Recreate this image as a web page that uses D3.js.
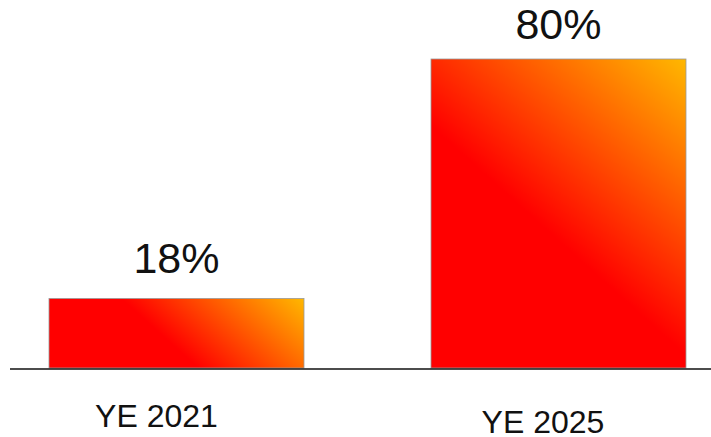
<!DOCTYPE html>
<html><head><meta charset="utf-8">
<script src="https://cdn.jsdelivr.net/npm/d3@7"></script>
<style>html,body{margin:0;padding:0;background:#fff;}svg{display:block;}</style>
</head><body>
<script>
const categories = ["YE 2021", "YE 2025"];
const values = [18, 80];
const valueLabels = ["18%", "80%"];

const W = 711, H = 437;
const svg = d3.select("body").append("svg").attr("width", W).attr("height", H);

const x = d3.scaleBand().domain(categories).range([49, 686]).paddingInner(127 / 382).paddingOuter(0);
const y = d3.scaleLinear().domain([0, 80]).range([368, 59]);

// per-bar diagonal gradient (red lower-left -> amber upper-right)
const defs = svg.append("defs");
const ux = 0.9, uy = -1;
values.forEach((d, i) => {
  const x0 = x(categories[i]), x1 = x0 + x.bandwidth();
  const yb = y(0), yt = y(d);
  const dx = x1 - x0, dy = yt - yb;
  const proj = (dx * ux + dy * uy) / (ux * ux + uy * uy);
  const g = defs.append("linearGradient").attr("id", "g" + i)
    .attr("gradientUnits", "userSpaceOnUse")
    .attr("x1", x0).attr("y1", yb)
    .attr("x2", x0 + proj * ux).attr("y2", yb + proj * uy);
  g.append("stop").attr("offset", 0).attr("stop-color", "#ff0000");
  g.append("stop").attr("offset", 0.45).attr("stop-color", "#ff0000");
  g.append("stop").attr("offset", 1).attr("stop-color", "#ffb800");
});

svg.selectAll("rect.bar").data(values).join("rect")
  .attr("class", "bar")
  .attr("x", (d, i) => x(categories[i]))
  .attr("y", d => y(d))
  .attr("width", x.bandwidth())
  .attr("height", d => y(0) - y(d))
  .attr("fill", (d, i) => `url(#g${i})`)
  .attr("stroke", "#999")
  .attr("stroke-width", 0.8);

svg.append("line").attr("x1", 10).attr("x2", W).attr("y1", y(0) + 1).attr("y2", y(0) + 1)
  .attr("stroke", "#111").attr("stroke-width", 1.6);

const valOffsets = [25, 20];
svg.selectAll("text.val").data(values).join("text")
  .attr("class", "val")
  .attr("x", (d, i) => x(categories[i]) + x.bandwidth() / 2)
  .attr("y", (d, i) => y(d) - valOffsets[i])
  .attr("text-anchor", "middle")
  .attr("font-family", "'Liberation Sans', Arial, sans-serif")
  .attr("font-size", 43)
  .attr("fill", "#111")
  .text((d, i) => valueLabels[i]);

const catOffsets = [[-20, 427], [-15.5, 433]];
svg.selectAll("text.cat").data(categories).join("text")
  .attr("class", "cat")
  .attr("x", (d, i) => x(d) + x.bandwidth() / 2 + catOffsets[i][0])
  .attr("y", (d, i) => catOffsets[i][1])
  .attr("text-anchor", "middle")
  .attr("font-family", "'Liberation Sans', Arial, sans-serif")
  .attr("font-size", 32)
  .attr("fill", "#111")
  .text(d => d);
</script>
</body></html>
